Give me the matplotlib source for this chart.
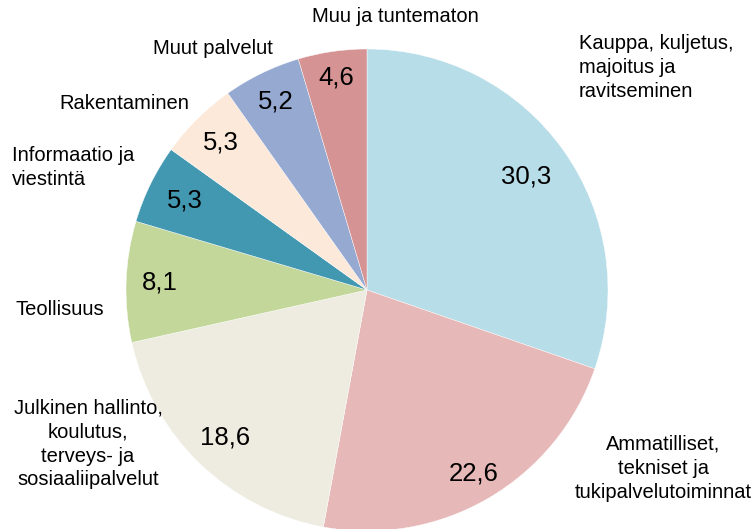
import numpy as np
import matplotlib
matplotlib.use("Agg")
from matplotlib import pyplot as plt

plt.rcParams['font.family'] = ['Liberation Sans', 'DejaVu Sans']

# toimialat ja osuudet (%)
categories = [
    "Kauppa, kuljetus,\nmajoitus ja\nravitseminen",
    "Ammatilliset,\ntekniset ja\ntukipalvelutoiminnat",
    "Julkinen hallinto,\nkoulutus,\nterveys- ja\nsosiaaliipalvelut",
    "Teollisuus",
    "Informaatio ja\nviestintä",
    "Rakentaminen",
    "Muut palvelut",
    "Muu ja tuntematon",
]
shares = [30.3, 22.6, 18.6, 8.1, 5.3, 5.3, 5.2, 4.6]
colors = ["#B7DDE8", "#E6B8B7", "#EEECE1", "#C4D79B",
          "#4298B0", "#FDE9D9", "#95A9D1", "#D59393"]

# value label distance from centre (fraction of radius)
val_dist = [0.81, 0.88, 0.85, 0.86, 0.84, 0.86, 0.87, 0.89]
# category label placement (pixels) and alignment
cat_pos = [(579, 34, 'left'), (663, 435, 'center'), (88, 399, 'center'),
           (60, 300, 'center'), (12, 146, 'left'), (124, 94, 'center'),
           (213, 39, 'center'), (395, 7, 'center')]

W, H = 756, 529
fig = plt.figure(figsize=(W / 100, H / 100), dpi=100)
ax = fig.add_axes([0, 0, 1, 1])

cx, cy, R = 367, H - 290, 241
wedges, _ = ax.pie(shares, colors=colors, startangle=90, counterclock=False,
                   center=(cx, cy), radius=R, frame=True,
                   wedgeprops=dict(edgecolor='white', linewidth=0.3))
ax.set_xlim(0, W)
ax.set_ylim(0, H)
ax.set_aspect('equal')
ax.axis('off')

for w, v, d in zip(wedges, shares, val_dist):
    a = np.deg2rad((w.theta1 + w.theta2) / 2)
    ax.text(cx + d * R * np.cos(a), cy + d * R * np.sin(a),
            f"{v:.1f}".replace('.', ','), ha='center', va='center',
            fontsize=18.5, color='black')

for label, (x, y, ha) in zip(categories, cat_pos):
    ax.text(x, H - y, label, ha=ha, va='top', fontsize=14.5,
            linespacing=1.32, multialignment=ha, color='black')

fig.savefig("out.png", dpi=100)
